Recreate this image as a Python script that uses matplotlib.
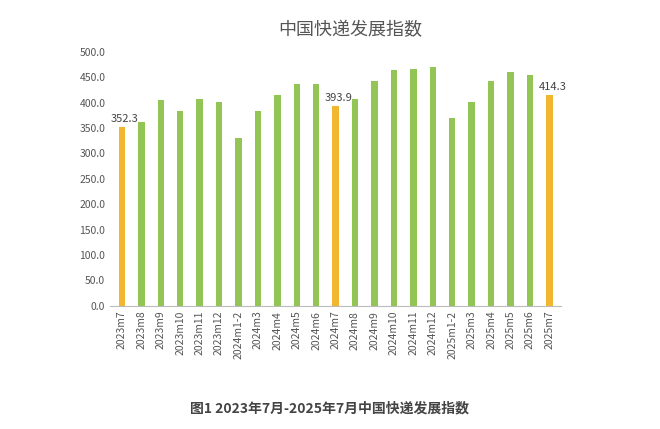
import matplotlib
matplotlib.use("Agg")
import matplotlib.pyplot as plt
from matplotlib import font_manager

categories = ["2023m7","2023m8","2023m9","2023m10","2023m11","2023m12","2024m1-2","2024m3","2024m4","2024m5","2024m6","2024m7","2024m8","2024m9","2024m10","2024m11","2024m12","2025m1-2","2025m3","2025m4","2025m5","2025m6","2025m7"]
values = [352.3,362,406,384,407,401,330,384,416,436,436,393.9,408,443,465,466,470,369,401,443,460,455,414.3]
highlight = {"2023m7","2024m7","2025m7"}
yticks = [0,50,100,150,200,250,300,350,400,450,500]

cjk = None
for f in font_manager.fontManager.ttflist:
    if "CJK" in f.name and ("SC" in f.name or cjk is None):
        cjk = f.name
fams = ([cjk] if cjk else []) + ["DejaVu Sans"]
plt.rcParams["font.family"] = fams

fig = plt.figure(figsize=(6.6,4.29), dpi=100)
ax = fig.add_axes([0.167,0.287,0.683,0.592])
colors = ["#f2b630" if c in highlight else "#92c456" for c in categories]
x = range(len(categories))
ax.bar(x, values, width=0.33, color=colors)
for i,(c,v) in enumerate(zip(categories,values)):
    if c in highlight:
        ax.text(i+0.15, v+6, f"{v:.1f}", ha="center", va="bottom", fontsize=8, color="#444")
ax.set_xticks(list(x))
ax.set_xticklabels(categories, rotation=90, fontsize=7.5, color="#555")
ax.set_yticks(yticks)
ax.set_yticklabels([f"{t:.1f}" for t in yticks], fontsize=7.5, color="#555")
ax.set_ylim(0,500)
ax.set_xlim(-0.6,len(categories)-0.4)
for s in ["top","right","left"]:
    ax.spines[s].set_visible(False)
ax.spines["bottom"].set_color("#bbb")
ax.tick_params(length=0)
fig.text(0.53,0.93,"中国快递发展指数",ha="center",va="center",fontsize=13,color="#555")
fig.text(0.5,0.048,"图1 2023年7月-2025年7月中国快递发展指数",ha="center",va="center",fontsize=10,color="#444",weight="bold")
fig.savefig("out.png", dpi=100)
